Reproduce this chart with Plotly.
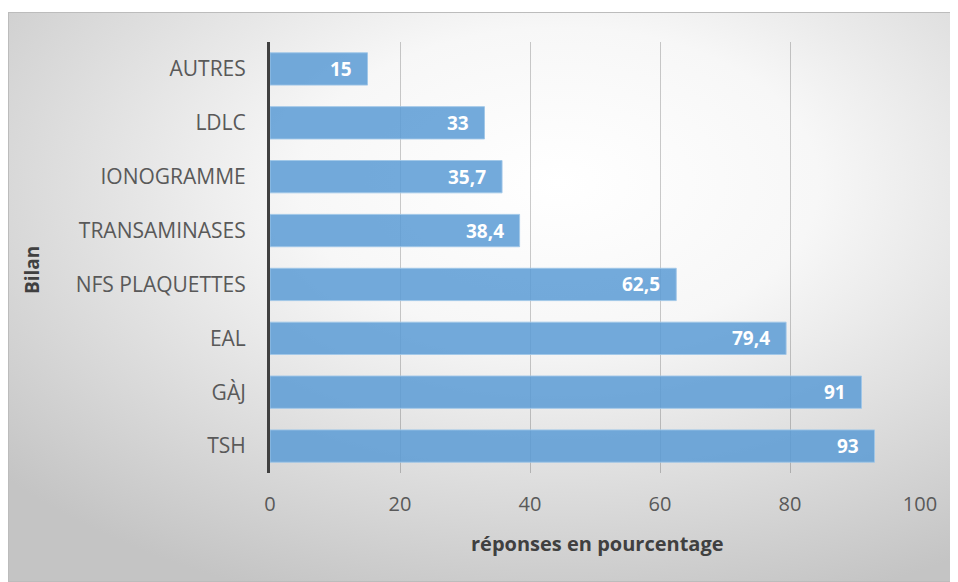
import base64
import plotly.graph_objects as go

# data (top to bottom as shown)
categories = ['AUTRES', 'LDLC', 'IONOGRAMME', 'TRANSAMINASES', 'NFS PLAQUETTES', 'EAL', 'GÀJ', 'TSH']
values = [15, 33, 35.7, 38.4, 62.5, 79.4, 91, 93]
x_ticks = [0, 20, 40, 60, 80, 100]

labels = [str(v).replace('.', ',') for v in values]

# page is drawn with an 8px body offset, so figure coords = screen coords - 8
OFF = 8
W, H = 958, 582
L, R, T, B = 270 - OFF, 38 + OFF, 42 - OFF, 109 + OFF
pw, ph = W - L - R, H - T - B

# radial grey background like the Office chart style
svg = ('<svg xmlns="http://www.w3.org/2000/svg" width="950" height="570" preserveAspectRatio="none">'
       '<defs><radialGradient id="g" cx="58%" cy="30%" r="78%">'
       '<stop offset="0" stop-color="#ffffff"/><stop offset="0.35" stop-color="#f7f7f7"/>'
       '<stop offset="1" stop-color="#c4c4c4"/></radialGradient></defs>'
       '<rect width="950" height="570" fill="url(#g)" stroke="#bcbcbc" stroke-width="2"/></svg>')
bg = 'data:image/svg+xml;base64,' + base64.b64encode(svg.encode()).decode()

def px_x(p):  # screen pixel -> paper x
    return (p - OFF - L) / pw

def px_y(p):  # screen pixel -> paper y
    return (H - B - (p - OFF)) / ph

font = '"Open Sans", sans-serif'

fig = go.Figure()
fig.add_trace(go.Bar(
    x=values, y=categories, orientation='h', width=0.6,
    marker=dict(color='rgba(91,155,213,0.85)', line=dict(color='rgba(160,198,232,0.9)', width=1)),
    showlegend=False, hoverinfo='x+y',
))

# value labels, inside end of each bar
annotations = [
    dict(x=v, y=c, text='<b>%s</b>' % t, xanchor='right', xshift=-14, showarrow=False,
         font=dict(color='white', size=19, family=font))
    for c, v, t in zip(categories, values, labels)
]
annotations += [
    dict(text='<b>réponses en pourcentage</b>', xref='paper', yref='paper', x=px_x(597), y=px_y(543),
         xanchor='center', yanchor='middle', showarrow=False, font=dict(size=20, color='#404040', family=font)),
    dict(text='<b>Bilan</b>', xref='paper', yref='paper', x=px_x(32), y=px_y(270), textangle=-90,
         xanchor='center', yanchor='middle', showarrow=False, font=dict(size=19, color='#404040', family=font)),
]

fig.update_layout(
    width=W, height=H,
    margin=dict(l=L, r=R, t=T, b=B),
    paper_bgcolor='white', plot_bgcolor='rgba(0,0,0,0)',
    font=dict(family=font, size=18, color='#595959'),
    xaxis=dict(range=[0, 100], tickvals=x_ticks, showgrid=True, gridcolor='rgba(0,0,0,0.2)', gridwidth=1,
               zeroline=False, showline=False, ticks='', ticklabelstandoff=17, tickfont=dict(size=20)),
    yaxis=dict(autorange='reversed', showline=True, linecolor='#404040', linewidth=3,
               showgrid=False, ticks='', ticklabelstandoff=17, tickfont=dict(size=21)),
    images=[dict(source=bg, xref='paper', yref='paper', x=px_x(8), y=px_y(12),
                 sizex=px_x(958) - px_x(8), sizey=px_y(12) - px_y(582),
                 xanchor='left', yanchor='top', sizing='stretch', layer='below')],
    annotations=annotations,
)

fig.write_html("out.html")
